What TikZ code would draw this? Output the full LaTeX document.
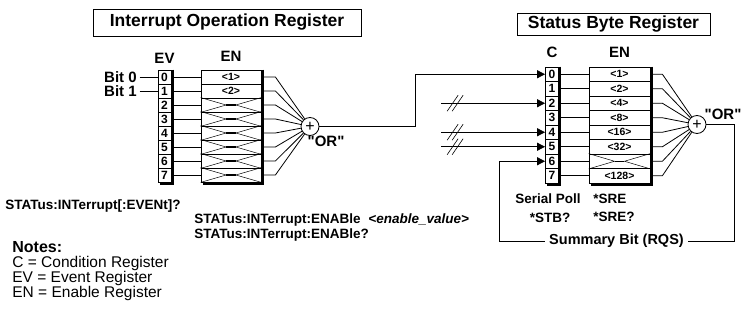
\documentclass[tikz,border=0pt]{standalone}
\usepackage{fontspec}
\setmainfont{Liberation Sans}
\newfontfamily\orfont{Liberation Sans}
\usetikzlibrary{arrows.meta,calc,positioning}
\newcommand{\fsz}[1]{\fontsize{#1}{#1}\selectfont}

\begin{document}
\begin{tikzpicture}[x=1pt,y=-1pt,>={Triangle[length=8pt,width=8pt]},line width=0.8pt,
    title/.style={draw,line width=0.7pt,inner sep=0pt,font=\bfseries\fsz{17.5}},
    bitcell/.style={draw,fill=white,inner sep=0pt,minimum width=13pt,font=\bfseries\fsz{12}},
    encell/.style={draw,fill=white,inner sep=0pt,minimum width=60pt,font=\bfseries\fsz{10.5}},
    collabel/.style={inner sep=0pt,font=\bfseries\fsz{15}},
    orgate/.style={draw,circle,fill=white,minimum size=18pt,inner sep=0pt,font=\fsz{16}},
    orlabel/.style={inner sep=0pt,font=\orfont\bfseries\fsz{15}},
    cmd/.style={anchor=base west,inner sep=0pt,font=\bfseries\fsz{13.5}},
    note/.style={anchor=base west,inner sep=0pt,font=\fsz{15.5}},
    shadow/.style={line width=2.4pt},
    xmark/.style={line width=0.5pt},
    busmark/.style={line width=0.6pt}]
  \useasboundingbox (0,0) rectangle (747,321);

  % titles
  \node[title,minimum width=268pt,minimum height=27pt] (iortitle) at (227,22.5) {Interrupt Operation Register};
  \node[title,minimum width=193pt,minimum height=22pt] (sbrtitle) at (613.5,24) {Status Byte Register};

  % the two OR gates
  \node[orgate] (orL) at (310,126.5) {+};
  \node[orgate] (orR) at (697,124.5) {+};
  \node[orlabel] (orLlbl) at ([xshift=16pt,yshift=-15pt]orL) {"OR"};
  \node[orlabel] (orRlbl) at ([xshift=26pt,yshift=10.5pt]orR) {"OR"};

  % interrupt operation register
  \foreach \i/\lab in {0/<1>,1/<2>,2/{},3/{},4/{},5/{},6/{},7/{}} {
    \node[bitcell,minimum height=14pt] (ev\i) at (164.5,{77+14*\i}) {\i};
    \node[encell,minimum height=14pt] (en\i) at (231,{77+14*\i}) {\lab};
    \draw (ev\i.east) -- (en\i.west);
    \draw (en\i.east) -- ++(14,0) -- (orL);
  }
  \foreach \i in {2,...,7}
    \draw[xmark] (en\i.north west) -- ($(en\i.west)!.42!(en\i.east)$) -- (en\i.south west)
      (en\i.north east) -- ($(en\i.west)!.58!(en\i.east)$) -- (en\i.south east)
      ($(en\i.west)!.42!(en\i.east)$) edge[line width=1.2pt] ($(en\i.west)!.58!(en\i.east)$);
  \draw[shadow] ([xshift=1.2pt]ev0.north east) -- ([xshift=1.2pt,yshift=-1.2pt]ev7.south east) -- ([xshift=2pt,yshift=-1.2pt]ev7.south west);
  \draw[shadow] ([xshift=1.2pt]en0.north east) -- ([xshift=1.2pt,yshift=-1.2pt]en7.south east) -- ([xshift=2pt,yshift=-1.2pt]en7.south west);
  \node[collabel,above=6pt of ev0] (evlbl) {EV};
  \node[collabel,above=8pt of en0] (enlbl) {EN};
  \node[collabel,inner xsep=2.5pt,left=18pt of ev0] (bit0) {Bit 0};
  \node[collabel,inner xsep=2.5pt,left=18pt of ev1] (bit1) {Bit 1};
  \draw (bit0) -- (ev0.west);
  \draw (bit1) -- (ev1.west);

  % status byte register
  \foreach \i/\lab in {0/<1>,1/<2>,2/<4>,3/<8>,4/<16>,5/<32>,6/{},7/<128>} {
    \node[bitcell,minimum height=14.5pt] (c\i) at (552,{74.25+14.5*\i}) {\i};
    \node[encell,minimum width=61pt,minimum height=14.5pt] (sen\i) at (619.5,{74.25+14.5*\i}) {\lab};
    \draw (c\i.east) -- (sen\i.west);
    \draw (sen\i.east) -- ++(12,0) -- (orR);
  }
  \draw[xmark] (sen6.north west) -- ($(sen6.west)!.42!(sen6.east)$) -- (sen6.south west)
    (sen6.north east) -- ($(sen6.west)!.58!(sen6.east)$) -- (sen6.south east)
    ($(sen6.west)!.42!(sen6.east)$) edge[line width=1.2pt] ($(sen6.west)!.58!(sen6.east)$);
  \draw[shadow] ([xshift=1.2pt]c0.north east) -- ([xshift=1.2pt,yshift=-1.2pt]c7.south east) -- ([xshift=2pt,yshift=-1.2pt]c7.south west);
  \draw[shadow] ([xshift=1.2pt]sen0.north east) -- ([xshift=1.2pt,yshift=-1.2pt]sen7.south east) -- ([xshift=2pt,yshift=-1.2pt]sen7.south west);
  \node[collabel,above=9pt of c0] (clbl) {C};
  \node[collabel,above=9pt of sen0] (senlbl) {EN};

  % connections into the status byte
  \draw[->] (orL.east) -- ++(96,0) |- (c0.west);
  \foreach \i in {2,4,5} {
    \coordinate (in\i) at ([xshift=-104pt]c\i.west);
    \draw[->] (in\i) -- (c\i.west);
    \draw[busmark] ($(in\i)+(6,8)$) -- ++(11,-16) ($(in\i)+(11,8)$) -- ++(11,-16);
  }
  \coordinate (rqsR) at (734,241);
  \coordinate (rqsL) at (499,241);
  \draw[->] (orR.east) -| (rqsR) -- node[fill=white,inner sep=4pt,font=\bfseries\fsz{14.5}] (rqs) {Summary Bit (RQS)} (rqsL) |- (c6.west);

  % commands
  \node[cmd] (evquery) at (5,209) {STATus:INTerrupt[:EVENt]?};
  \node[cmd] (enset) at (194,223) {STATus:INTerrupt:ENABle\hspace{4pt} \textit{<enable\_value>}};
  \node[cmd] (enquery) at (194,238) {STATus:INTerrupt:ENABle?};
  \node[cmd,anchor=base] (serpoll) at (548,203) {Serial Poll};
  \node[cmd,anchor=base] (stb) at (550,222) {*STB?};
  \node[cmd] (sre) at (593,203) {*SRE};
  \node[cmd] (srequery) at (593,221) {*SRE?};

  % notes
  \node[note,font=\bfseries\fsz{16}] (notes) at (12,252) {Notes:};
  \node[note] (notec) at (12,267) {C = Condition Register};
  \node[note] (noteev) at (12,282) {EV = Event Register};
  \node[note] (noteen) at (12,297) {EN = Enable Register};
\end{tikzpicture}
\end{document}
